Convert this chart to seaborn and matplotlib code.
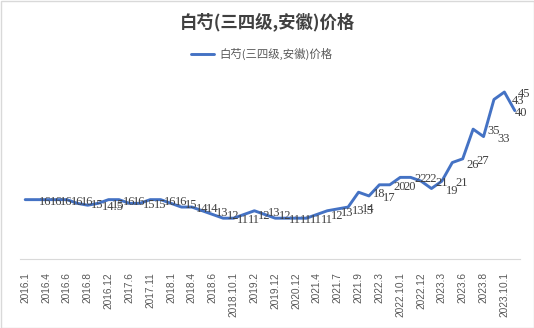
import matplotlib
matplotlib.use("Agg")
import matplotlib.pyplot as plt
from matplotlib.patches import Rectangle
import numpy as np
import pandas as pd
import seaborn as sns

title = "白芍(三四级,安徽)价格"
series_name = "白芍(三四级,安徽)价格"

values = [16, 16, 16, 16, 16, 15, 14.5, 15, 16, 16, 15, 15,
          16, 16, 15, 14, 14, 13, 12, 11, 11, 12, 13, 12,
          11, 11, 11, 11, 12, 13, 13.5, 14, 18, 17, 20, 20,
          22, 22, 21, 19, 21, 26, 27, 35, 33, 43, 45, 40]

tick_labels = ["2016.1", "2016.4", "2016.6", "2016.8", "2016.12", "2017.6",
               "2017.11", "2018.1", "2018.4", "2018.6", "2018.10.1", "2019.2",
               "2019.12", "2020.12", "2021.4", "2021.7", "2021.9", "2022.3",
               "2022.10.1", "2022.12", "2023.3", "2023.6", "2023.8", "2023.10.1"]

sns.set_style("white")
plt.rcParams["font.family"] = ["Noto Sans CJK SC", "DejaVu Sans"]

W, H, DPI = 534, 328, 100
fig = plt.figure(figsize=(W / DPI, H / DPI), dpi=DPI)
ax_left, ax_right, ax_bottom, ax_top = 20, 520, 259, 73.5
ax = fig.add_axes([ax_left / W, 1 - ax_bottom / H,
                   (ax_right - ax_left) / W, (ax_bottom - ax_top) / H])

pos = np.arange(len(values))
df = pd.DataFrame({"pos": pos, "value": values})
sns.lineplot(data=df, x="pos", y="value", ax=ax, color="#4472C4",
             linewidth=2.1, label=series_name, legend=False)

ax.set_xlim(-0.5, len(values) - 0.5)
ax.set_ylim(0, 50)
ax.set_xticks(pos[::2])
ax.set_xticklabels(tick_labels, rotation=90, fontsize=7.3,
                   family=["Liberation Sans", "DejaVu Sans"], color="#595959",
                   va="top", ha="center")
ax.tick_params(axis="x", length=0, pad=9.5)
ax.set_yticks([])
ax.set_xlabel("")
ax.set_ylabel("")
for s in ["top", "right", "left"]:
    ax.spines[s].set_visible(False)
ax.spines["bottom"].set_color("#d9d9d9")
ax.spines["bottom"].set_linewidth(0.8)

px = 72 / DPI
offsets = {len(values) - 1: 0, len(values) - 2: 13, len(values) - 3: 18}
for i, v in enumerate(values):
    dx = offsets.get(i, 14)
    txt = f"{v:g}"
    ax.annotate(txt, (i, v), xytext=(dx * px, -2 * px), textcoords="offset points",
                ha="left", va="center", fontsize=9,
                family=["Liberation Serif", "DejaVu Serif"], color="#404040")

fig.text(0.5, 1 - 22 / H, title, ha="center", va="center", fontsize=12.5,
         fontweight="bold", color="#404040")

handles, labels = ax.get_legend_handles_labels()
fig.legend(handles, labels, loc="center", bbox_to_anchor=(0.49, 1 - 54 / H),
           frameon=False, fontsize=8.2, handlelength=2.0, handletextpad=0.5,
           labelcolor="#595959")

fig.patches.append(Rectangle((0.5 / W, 0.5 / H), 1 - 1 / W, 1 - 1 / H,
                             transform=fig.transFigure, fill=False,
                             edgecolor="#d9d9d9", linewidth=1))

fig.savefig("out.png", dpi=DPI)
